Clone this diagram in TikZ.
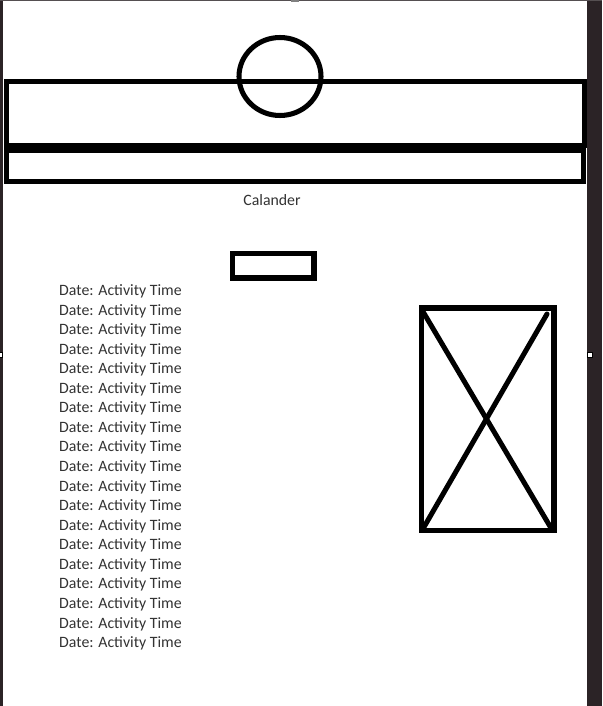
\documentclass[tikz,border=0pt]{standalone}
\usepackage{fontspec}
\setmainfont{Carlito}
\definecolor{frame}{HTML}{2B2326}
\definecolor{ink}{HTML}{333333}
\tikzset{
  thickline/.style={line width=4.3pt},
  entry/.style={anchor=base west, inner sep=0pt, text=ink, font=\fontsize{13.5}{16}\selectfont},
  handle/.style={fill=white, draw=black, line width=0.8pt}
}
\begin{document}
\begin{tikzpicture}[x=0.03cm, y=-0.03cm]
  \useasboundingbox (0,0) rectangle (602,706);
  \fill[white] (0,0) rectangle (602,706);
  % Header bars
  \draw[thickline] (6.5,81.5) rectangle (585,145.5);
  \draw[thickline] (6.5,150.5) rectangle (583.5,181.5);
  % Logo circle over header
  \draw[thickline] (280,76.5) ellipse [x radius=41, y radius=39];
  % Title
  \node[entry, anchor=base] (title) at (272,205.5) {Calander};
  % Small button
  \draw[thickline] (232.5,253.5) rectangle (314,278);
  % List of entries
  \foreach \i in {0,...,18}
    \node[entry] (entry\i) at (59,{295.5+19.56*\i}) {Date: Activity Time};
  % Image placeholder
  \draw[thickline] (421.5,308) rectangle (554,530.5);
  \draw[thickline, line cap=round] (422,310) -- (551,528);
  \draw[thickline, line cap=round] (547,314) -- (424,527);
  % Window edges
  \fill[frame] (0,0) rectangle (3,706);
  \fill[frame] (586.7,0) rectangle (602,706);
  \fill[frame!80] (0,0) rectangle (602,1.5);
  \fill[gray] (291,0) rectangle (299,2);
  % Resize handles
  \draw[handle] (-1,352.5) rectangle (2.5,357.5);
  \draw[handle] (587.5,352) rectangle (592.5,357.5);
\end{tikzpicture}
\end{document}
